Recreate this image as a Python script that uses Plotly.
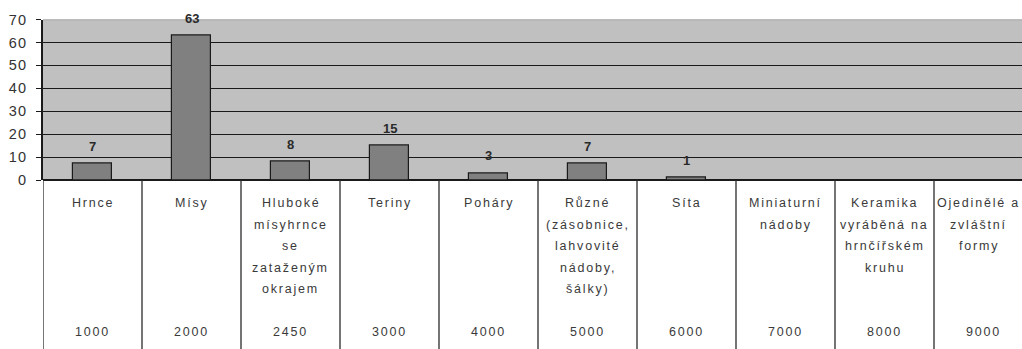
import plotly.graph_objects as go

categories = [
    "Hrnce",
    "Mísy",
    "Hluboké\nmísyhrnce\nse\nzataženým\nokrajem",
    "Teriny",
    "Poháry",
    "Různé\n(zásobnice,\nlahvovité\nnádoby,\nšálky)",
    "Síta",
    "Miniaturní\nnádoby",
    "Keramika\nvyráběná na\nhrnčířském\nkruhu",
    "Ojedinělé a\nzvláštní\nformy",
]
codes = ["1000", "2000", "2450", "3000", "4000", "5000", "6000", "7000", "8000", "9000"]
values = [7, 63, 8, 15, 3, 7, 1, None, None, None]
y_ticks = [0, 10, 20, 30, 40, 50, 60, 70]

W, H = 1022, 349
plot_top_px, plot_bot_px = 19.5, 180
dom = [(H - plot_bot_px) / H, (H - plot_top_px) / H]
col_w_px = 99.0
left_px = 43
x_max = -0.5 + (W - left_px) / col_w_px

FONT = "Liberation Sans, Arial, sans-serif"
TXT = "#3a3a3a"

def spaced(s, ls=1.8):
    return f'<span style="letter-spacing:{ls}px">{s}</span>'

xs = list(range(len(categories)))
fig = go.Figure()
fig.add_trace(go.Bar(
    x=[x for x, v in zip(xs, values) if v is not None],
    y=[v for v in values if v is not None],
    width=0.4,
    marker=dict(color="#808080", line=dict(color="#1a1a1a", width=1.2)),
    hoverinfo="skip",
))

annotations = []
for x, v in zip(xs, values):
    if v is None:
        continue
    annotations.append(dict(x=x, y=v, xref="x", yref="y", text=f"<b>{v}</b>",
                            showarrow=False, yanchor="bottom", yshift=8,
                            font=dict(family=FONT, size=13, color="#2a2a2a")))

line0_px, line_step_px, code_px = 203, 21.6, 332
for x, name, code in zip(xs, categories, codes):
    xsh = -5 if x == len(categories) - 1 else 0
    for i, ln in enumerate(name.split("\n")):
        ypx = line0_px + i * line_step_px
        annotations.append(dict(x=x, y=(H - ypx) / H, xref="x", yref="paper",
                                text=spaced(ln), showarrow=False, xshift=xsh,
                                xanchor="center", yanchor="middle",
                                font=dict(family=FONT, size=12.5, color=TXT)))
    annotations.append(dict(x=x, y=(H - code_px) / H, xref="x", yref="paper",
                            text=spaced(code, 1.8), showarrow=False,
                            xanchor="center", yanchor="middle",
                            font=dict(family=FONT, size=12.5, color=TXT)))

shapes = []
for k in range(len(categories)):
    shapes.append(dict(type="line", xref="x", yref="paper", x0=k - 0.5, x1=k - 0.5,
                       y0=0, y1=dom[0], line=dict(color="#2a2a2a", width=1.3)))
# top border of plot area (lighter than gridlines)
shapes.append(dict(type="line", xref="paper", yref="y", x0=0, x1=1, y0=y_ticks[-1], y1=y_ticks[-1],
                   line=dict(color="#9a9a9a", width=1.5)))

fig.update_layout(
    width=W, height=H,
    margin=dict(l=left_px, r=0, t=0, b=0),
    paper_bgcolor="white",
    plot_bgcolor="#c0c0c0",
    showlegend=False,
    bargap=0,
    annotations=annotations,
    shapes=shapes,
    xaxis=dict(range=[-0.5, x_max], showticklabels=False, showgrid=False,
               zeroline=False, showline=False, fixedrange=True, automargin=False),
    yaxis=dict(domain=dom, range=[0, 70], tickvals=y_ticks,
               ticktext=[spaced(str(t), 1.2) for t in y_ticks],
               showgrid=True, gridcolor="#1a1a1a", gridwidth=1.2,
               zeroline=True, zerolinecolor="#1a1a1a", zerolinewidth=1.5,
               showline=True, linecolor="#1a1a1a", linewidth=1.5,
               ticks="outside", ticklen=5, tickcolor="#1a1a1a", tickwidth=1.2,
               ticklabelstandoff=6, automargin=False,
               tickfont=dict(family=FONT, size=14.5, color="#333333"),
               fixedrange=True),
)

fig.write_html(
    "out.html",
    config={"displayModeBar": False},
    post_script="document.body.style.margin='0';document.body.style.overflow='hidden';",
)
